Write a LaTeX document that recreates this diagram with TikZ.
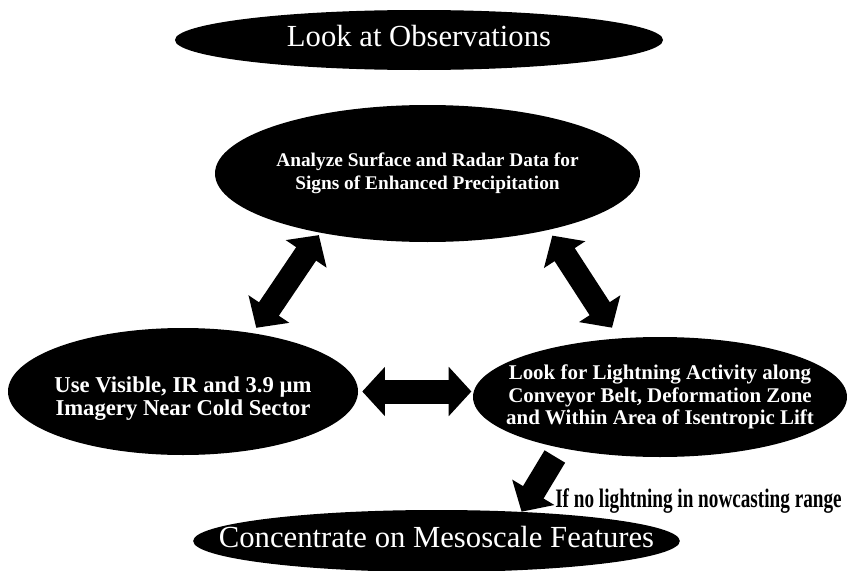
\documentclass[tikz,border=0pt]{standalone}
\usepackage{fontspec}
\setmainfont{Liberation Serif}
\newfontfamily\narrowserif[FakeStretch=0.72]{Liberation Serif}
\usetikzlibrary{arrows.meta,shapes.geometric}

\begin{document}
\begin{tikzpicture}[
    x=0.75pt, y=-0.75pt,
    oval/.style={ellipse, fill=black, text=white, inner sep=-3cm, align=center},
    bigoval/.style={oval, font=\fontsize{23}{27}\selectfont, text height=1em, text depth=0pt},
    cond/.style={inner sep=0pt, font=\narrowserif\bfseries\fontsize{20}{24}\selectfont},
    arrow/.style={>={Triangle[width=36pt,length=17pt]}, line width=18pt, draw=black},
  ]
  \useasboundingbox (0,0) rectangle (847,571);

  % Start and end
  \node[bigoval, minimum width=366pt, minimum height=45pt] (obs) at (419,40) {Look at Observations};
  \node[bigoval, minimum width=365pt, minimum height=46.5pt] (conc) at (436.5,541) {Concentrate on Mesoscale Features};

  % Observation sources
  \node[oval, minimum width=318.75pt, minimum height=102.75pt, font=\bfseries\fontsize{14.5}{17.25}\selectfont] (analyze) at (427.5,173.5)
    {Analyze Surface and Radar Data for\\Signs of Enhanced Precipitation};
  \node[oval, minimum width=262.5pt, minimum height=95.25pt, text height=39.5pt, font=\bfseries\fontsize{17}{17.5}\selectfont] (use) at (183,391.5)
    {Use Visible, IR and 3.9 µm\\Imagery Near Cold Sector};
  \node[oval, minimum width=280.5pt, minimum height=90pt, font=\bfseries\fontsize{15.7}{16.9}\selectfont] (light) at (660,397)
    {Look for Lightning Activity along\\Conveyor Belt, Deformation Zone\\and Within Area of Isentropic Lift};

  \draw[arrow, <->, shorten <=4.7pt, shorten >=2pt] (use.40) -- (analyze.209);
  \draw[arrow, <->, shorten <=5pt, shorten >=9.4pt] (analyze.335) -- (light.125);
  \draw[arrow, <->, shorten <=3pt, shorten >=1pt] (use.east) -- (use.east -| light.west);
  \draw[arrow, ->, shorten <=7.5pt] (light.207) -- (conc.19);

  \node[cond, anchor=base west] (nolight) at (555,507) {If no lightning in nowcasting range};
\end{tikzpicture}
\end{document}
